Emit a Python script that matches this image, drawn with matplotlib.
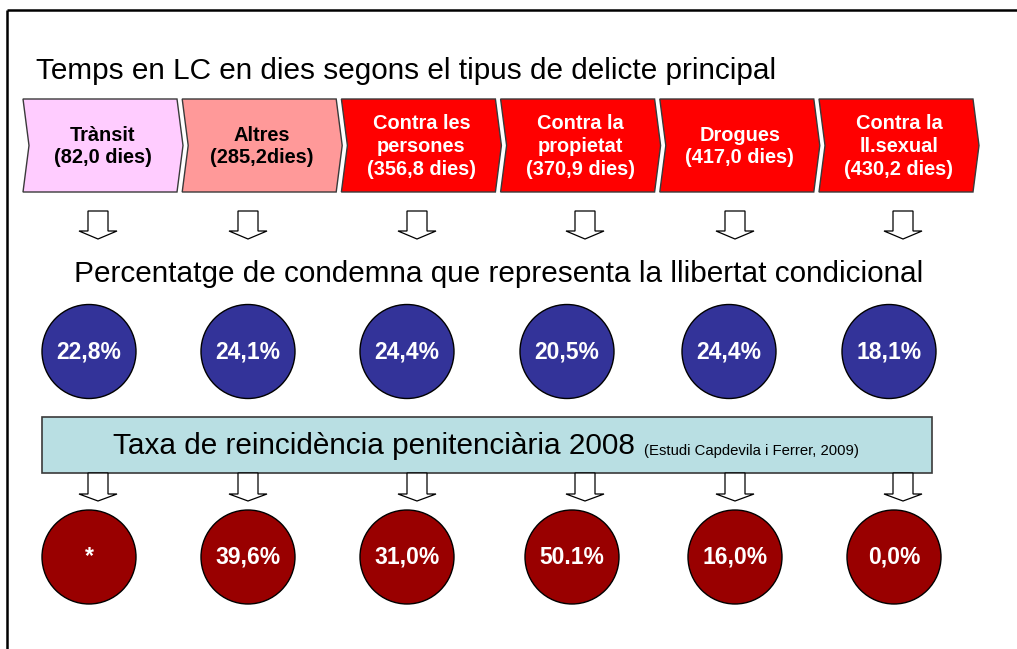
import matplotlib
matplotlib.use("Agg")
import matplotlib.pyplot as plt
from matplotlib.patches import Polygon, Circle, Rectangle

plt.rcParams['font.family'] = ['Liberation Sans', 'DejaVu Sans']

# ---- data ----
categories = ["Trànsit", "Altres", "Contra les\npersones", "Contra la\npropietat", "Drogues", "Contra la\nll.sexual"]
days_labels = ["(82,0 dies)", "(285,2dies)", "(356,8 dies)", "(370,9 dies)", "(417,0 dies)", "(430,2 dies)"]
conditional_pct = ["22,8%", "24,1%", "24,4%", "20,5%", "24,4%", "18,1%"]
reincidence_pct = ["*", "39,6%", "31,0%", "50.1%", "16,0%", "0,0%"]
chevron_colors = ["#FFCCFF", "#FF9999", "#FF0000", "#FF0000", "#FF0000", "#FF0000"]
chevron_text_colors = ["black", "black", "white", "white", "white", "white"]

title1 = "Temps en LC en dies segons el tipus de delicte principal"
title2 = "Percentatge de condemna que representa la llibertat condicional"
banner_main = "Taxa de reincidència penitenciària 2008"
banner_note = "(Estudi Capdevila i Ferrer, 2009)"

# ---- layout (pixel coordinates) ----
W, H = 1017, 649
fig = plt.figure(figsize=(W / 100, H / 100), dpi=100)
ax = fig.add_axes([0, 0, 1, 1])
ax.set_xlim(0, W)
ax.set_ylim(H, 0)
ax.set_aspect('equal')
ax.axis('off')

# frame
ax.plot([7, W], [10, 10], color='black', lw=1.8, solid_capstyle='butt')
ax.plot([7, 7], [10, H], color='black', lw=1.8, solid_capstyle='butt')

# titles
ax.text(36, 71, title1, fontsize=21.4, ha='left', va='center')
ax.text(74, 274, title2, fontsize=21.4, ha='left', va='center')

# chevrons
top, bot = 99, 192
mid = (top + bot) / 2
pitch, w, d = 159.2, 154, 6
for i, (cat, dl, fc, tc) in enumerate(zip(categories, days_labels, chevron_colors, chevron_text_colors)):
    L = 23 + pitch * i
    pts = [(L, top), (L + w, top), (L + w + d, mid), (L + w, bot), (L, bot), (L + d, mid)]
    ax.add_patch(Polygon(pts, closed=True, facecolor=fc, edgecolor='#3a3a3a', lw=1.0))
    ax.text(L + (w + d) / 2, mid + 1, cat + "\n" + dl, fontsize=14.4, fontweight='bold',
            color=tc, ha='center', va='center', linespacing=1.25)

arrow_x = [98, 248, 417, 585, 735, 903]
circle_x1 = [89, 248, 407, 567, 729, 889]
circle_x2 = [89, 248, 407, 572, 735, 894]


def down_arrow(cx, y0, y1, y2):
    pts = [(cx - 10, y0), (cx + 10, y0), (cx + 10, y1), (cx + 19, y1), (cx, y2),
           (cx - 19, y1), (cx - 10, y1)]
    ax.add_patch(Polygon(pts, closed=True, facecolor='white', edgecolor='black', lw=0.9))


for cx in arrow_x:
    down_arrow(cx, 211, 231, 239)

# blue circles
for cx, lab in zip(circle_x1, conditional_pct):
    ax.add_patch(Circle((cx, 351.5), 47, facecolor='#333399', edgecolor='black', lw=1.0))
    ax.text(cx, 352, lab, fontsize=16.5, fontweight='bold', color='white', ha='center', va='center')

# banner
ax.add_patch(Rectangle((42, 417), 890, 56, facecolor='#B9DFE3', edgecolor='#3a3a3a', lw=1.2))
t = ax.text(113, 446, banner_main, fontsize=21.4, ha='left', va='center')
fig.canvas.draw()
bb = t.get_window_extent()
x_end = bb.x1
ax.text(x_end + 9, 451, banner_note, fontsize=10.7, ha='left', va='center')

for cx in arrow_x:
    down_arrow(cx, 473, 494, 501)

# red circles
for cx, lab in zip(circle_x2, reincidence_pct):
    ax.add_patch(Circle((cx, 557), 47, facecolor='#990000', edgecolor='black', lw=1.0))
    ax.text(cx, 557, lab, fontsize=16.5, fontweight='bold', color='white', ha='center', va='center')

fig.savefig("out.png", dpi=100)
